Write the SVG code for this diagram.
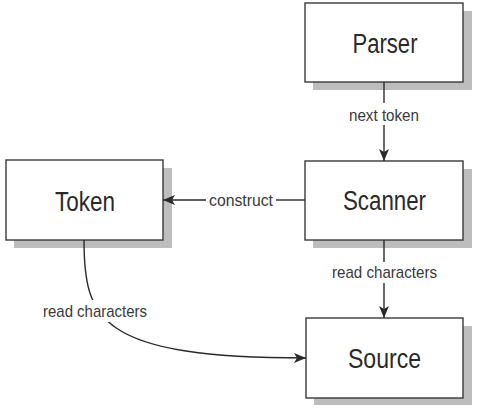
<svg xmlns="http://www.w3.org/2000/svg" width="494" height="412" viewBox="0 0 494 412">
<defs>
<marker id="arr" viewBox="0 0 12 10" refX="12" refY="5" markerWidth="12" markerHeight="10" markerUnits="userSpaceOnUse" orient="auto">
<path d="M0,0 L12,5 L0,10 L3,5 Z" fill="#2a2a2a"/>
</marker>
</defs>
<style>
.shadow{fill:#bdbdbd}
.box{fill:#fff;stroke:#3a3a3a;stroke-width:1.4}
.title{font-family:"Liberation Sans",Arial,sans-serif;font-size:27px;fill:#2a2a2a;text-anchor:middle}
.lbl{font-family:"Liberation Sans",Arial,sans-serif;font-size:17px;fill:#3a3a3a;text-anchor:middle}
.edge{fill:none;stroke:#2a2a2a;stroke-width:1.4}
</style>
<rect width="494" height="412" fill="#fff"/>
<g id="parser">
<rect class="shadow" x="313" y="11" width="159" height="79"/>
<rect class="box" x="305" y="3" width="158" height="79"/>
<text class="title" x="385" y="53" textLength="65" lengthAdjust="spacingAndGlyphs">Parser</text>
</g>
<g id="scanner">
<rect class="shadow" x="313" y="169" width="159" height="79"/>
<rect class="box" x="305" y="161" width="158" height="79"/>
<text class="title" x="384.5" y="210" textLength="83" lengthAdjust="spacingAndGlyphs">Scanner</text>
</g>
<g id="token">
<rect class="shadow" x="14" y="168" width="158" height="80"/>
<rect class="box" x="6" y="160" width="157" height="80"/>
<text class="title" x="85" y="211" textLength="60" lengthAdjust="spacingAndGlyphs">Token</text>
</g>
<g id="source">
<rect class="shadow" x="314" y="326" width="158" height="79"/>
<rect class="box" x="306" y="318" width="157" height="80"/>
<text class="title" x="384.5" y="368" textLength="73" lengthAdjust="spacingAndGlyphs">Source</text>
</g>
<g id="connectors">
<path class="edge" d="M384,82 V103"/>
<path class="edge" d="M384,125 V161" marker-end="url(#arr)"/>
<text class="lbl" x="384" y="121" textLength="70" lengthAdjust="spacingAndGlyphs">next token</text>
<path class="edge" d="M305,200 H276"/>
<path class="edge" d="M206,200 H163" marker-end="url(#arr)"/>
<text class="lbl" x="241" y="206" textLength="64" lengthAdjust="spacingAndGlyphs">construct</text>
<path class="edge" d="M384,240 V262"/>
<path class="edge" d="M384,283 V318" marker-end="url(#arr)"/>
<text class="lbl" x="384.5" y="278" textLength="105" lengthAdjust="spacingAndGlyphs">read characters</text>
<path class="edge" d="M84,240 C84,320 100,358 306,358" marker-end="url(#arr)"/>
<rect x="40" y="300" width="110" height="22" fill="#fff"/>
<text class="lbl" x="95" y="317" textLength="104" lengthAdjust="spacingAndGlyphs">read characters</text>
</g>
</svg>
